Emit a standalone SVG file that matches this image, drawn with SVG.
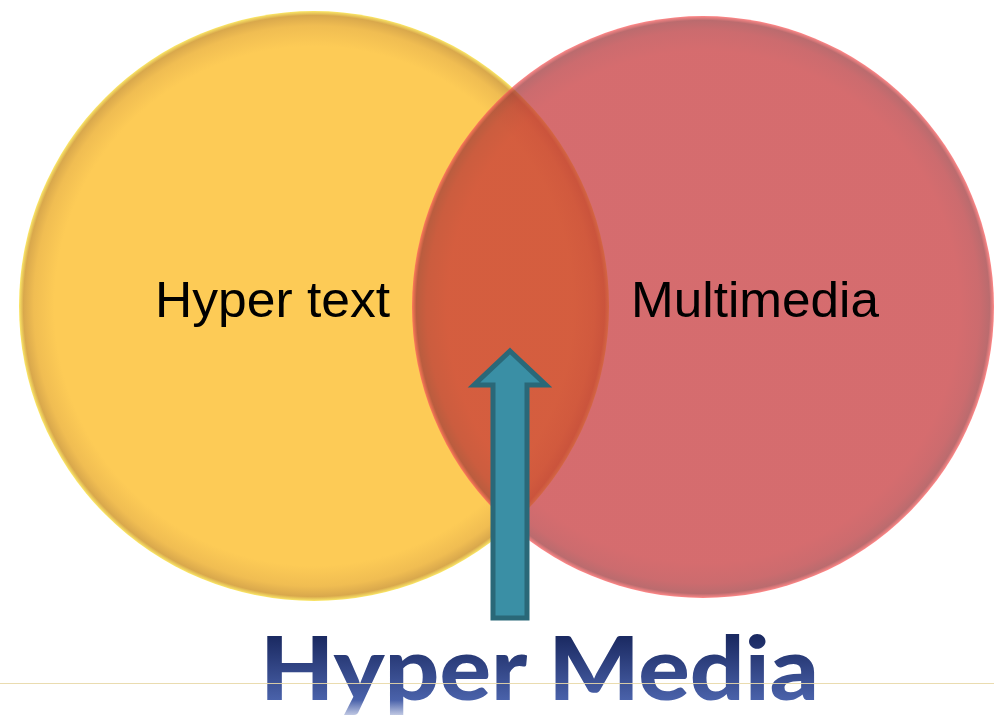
<svg xmlns="http://www.w3.org/2000/svg" width="994" height="719" viewBox="0 0 994 719">
  <defs>
    <radialGradient id="gYellow" cx="0.5" cy="0.5" r="0.5">
      <stop offset="0" stop-color="#fdcb56"/>
      <stop offset="0.88" stop-color="#fdcb56"/>
      <stop offset="0.95" stop-color="#f0bd52"/>
      <stop offset="0.985" stop-color="#d9a84c"/>
      <stop offset="1" stop-color="#fbe868"/>
    </radialGradient>
    <radialGradient id="gRed" cx="0.5" cy="0.5" r="0.5">
      <stop offset="0" stop-color="#c53336"/>
      <stop offset="0.88" stop-color="#c53336"/>
      <stop offset="0.95" stop-color="#b83236"/>
      <stop offset="0.985" stop-color="#a03236"/>
      <stop offset="1" stop-color="#ff5a5a"/>
    </radialGradient>
    <linearGradient id="gTitle" gradientUnits="userSpaceOnUse" x1="0" y1="637" x2="0" y2="719">
      <stop offset="0" stop-color="#1b2a62"/>
      <stop offset="0.77" stop-color="#4a62aa"/>
      <stop offset="1" stop-color="#dfe3f2"/>
    </linearGradient>
    <style>
      .label { font-family: "Liberation Sans", Arial, sans-serif; font-size: 50px; fill: #000000; }
      .title { font-family: Lato, "Open Sans", sans-serif; font-weight: 900; font-size: 88px; fill: url(#gTitle); }
      .arrow { fill: #3a8fa5; stroke: #2a6878; stroke-width: 5; stroke-linejoin: miter; }
    </style>
  </defs>
  <rect width="994" height="719" fill="#ffffff"/>
  <g id="hypertext">
    <circle cx="314" cy="306" r="295" fill="url(#gYellow)"/>
    <text class="label" x="155" y="317" textLength="235" lengthAdjust="spacingAndGlyphs">Hyper text</text>
  </g>
  <g id="multimedia">
    <circle cx="703" cy="307" r="291" fill="url(#gRed)" opacity="0.72"/>
    <text class="label" x="631" y="317" textLength="248" lengthAdjust="spacingAndGlyphs">Multimedia</text>
  </g>
  <g id="connectors">
    <path class="arrow" d="M510,351 L546,385 L527,385 L527,618 L493,618 L493,385 L474,385 Z"/>
  </g>
  <g id="hypermedia">
    <text class="title" x="260" y="700" textLength="559" lengthAdjust="spacingAndGlyphs">Hyper Media</text>
  </g>
  <line x1="0" y1="683.5" x2="994" y2="683.5" stroke="#e8d9a8" stroke-width="1" opacity="0.9"/>
</svg>
